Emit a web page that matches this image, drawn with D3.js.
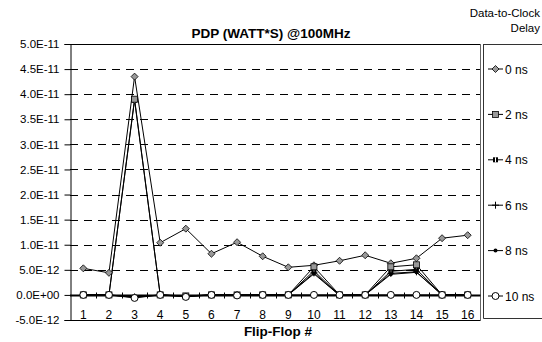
<!DOCTYPE html>
<html>
<head>
<meta charset="utf-8">
<script src="https://cdn.jsdelivr.net/npm/d3@7/dist/d3.min.js"></script>
<style>
  html, body { margin: 0; padding: 0; background: #fff; }
  svg { display: block; font-family: "Liberation Sans", Arial, sans-serif; }
</style>
</head>
<body>
<svg id="chart" width="542" height="342"></svg>
<script>
// Flip-flop index along the category axis
const flipFlops = [1, 2, 3, 4, 5, 6, 7, 8, 9, 10, 11, 12, 13, 14, 15, 16];

// Power-delay product (W*s) per flip-flop, one array per data-to-clock delay
const pdp0ns  = [5.3e-12, 4.4e-12, 4.35e-11, 1.04e-11, 1.32e-11, 8.2e-12, 1.05e-11, 7.7e-12, 5.5e-12, 5.9e-12, 6.8e-12, 7.9e-12, 6.3e-12, 7.3e-12, 1.13e-11, 1.19e-11];
const pdp2ns  = [0, 0, 3.9e-11, 0, -2e-13, 0, 0, 0, 0, 5.6e-12, 0, 0, 5.6e-12, 6.0e-12, 0, 0];
const pdp4ns  = [0, 0, 3.88e-11, 0, -2e-13, 0, 0, 0, 0, 4.8e-12, -1e-13, 0, 4.7e-12, 5.1e-12, 0, 0];
const pdp6ns  = [0, 0, -4e-13, 0, -3e-13, 0, 0, 0, 0, 4.4e-12, -1e-13, 0, 4.3e-12, 4.6e-12, 0, 0];
const pdp8ns  = [0, 0, -5e-13, 0, -3e-13, 0, -1e-13, 0, 0, 4.2e-12, -1e-13, 0, 4.1e-12, 4.5e-12, 0, 0];
const pdp10ns = [0, 0, -6e-13, 0, -4e-13, 0, -1e-13, 0, 0, 0, 0, 0, 0, 0, 0, 0];

const seriesNames = ["0 ns", "2 ns", "4 ns", "6 ns", "8 ns", "10 ns"];
const yTickValues = [5.0e-11, 4.5e-11, 4.0e-11, 3.5e-11, 3.0e-11, 2.5e-11, 2.0e-11, 1.5e-11, 1.0e-11, 5.0e-12, 0, -5.0e-12];
const yTickLabels = ["5.0E-11", "4.5E-11", "4.0E-11", "3.5E-11", "3.0E-11", "2.5E-11", "2.0E-11", "1.5E-11", "1.0E-11", "5.0E-12", "0.0E+00", "-5.0E-12"];

const series = [
  { name: seriesNames[0], values: pdp0ns,  marker: "diamond" },
  { name: seriesNames[1], values: pdp2ns,  marker: "square" },
  { name: seriesNames[2], values: pdp4ns,  marker: "smallsquare" },
  { name: seriesNames[3], values: pdp6ns,  marker: "plus" },
  { name: seriesNames[4], values: pdp8ns,  marker: "dot" },
  { name: seriesNames[5], values: pdp10ns, marker: "circle" }
];
// Stacking order of the marker layers (bottom first)
const markerOrder = [0, 2, 3, 4, 1, 5];

const svg = d3.select("#chart");
const plot = { left: 70, right: 480.5, top: 44, bottom: 320 };

const x = d3.scaleBand().domain(flipFlops).range([plot.left + 0.5, plot.right]);
const y = d3.scaleLinear().domain([-5e-12, 5e-11]).range([plot.bottom, plot.top]);
const cx = d => x(d) + x.bandwidth() / 2;

// Dashed horizontal gridlines
svg.append("g")
  .selectAll("line")
  .data(yTickValues.filter(v => v !== 0 && v !== 5e-11 && v !== -5e-12))
  .join("line")
  .attr("x1", plot.left).attr("x2", plot.right)
  .attr("y1", d => Math.round(y(d)) + 0.5).attr("y2", d => Math.round(y(d)) + 0.5)
  .attr("stroke", "#000").attr("stroke-width", 1)
  .attr("stroke-dasharray", "8,6");

// Plot frame: top, bottom, right
svg.append("line").attr("x1", plot.left).attr("x2", plot.right).attr("y1", plot.top + 0.5).attr("y2", plot.top + 0.5).attr("stroke", "#000");
svg.append("line").attr("x1", plot.left).attr("x2", plot.right).attr("y1", plot.bottom + 0.5).attr("y2", plot.bottom + 0.5).attr("stroke", "#000");
svg.append("line").attr("x1", plot.right).attr("x2", plot.right).attr("y1", plot.top).attr("y2", plot.bottom + 1).attr("stroke", "#666");

// Value axis
const yAxis = d3.axisLeft(y)
  .tickValues(yTickValues)
  .tickSize(6)
  .tickPadding(5)
  .tickFormat((d, i) => yTickLabels[i]);
const gy = svg.append("g").attr("transform", `translate(${plot.left + 0.5},0)`).call(yAxis);
gy.select(".domain").attr("stroke", "#000");
gy.selectAll(".tick line").attr("stroke", "#000");
gy.selectAll(".tick text").attr("font-size", 11.5).attr("fill", "#000")
  .attr("font-family", "Liberation Sans, Arial, sans-serif");

// Category axis crossing at zero, with labels at the bottom of the plot
const y0 = Math.round(y(0)) + 0.5;
svg.append("line").attr("x1", plot.left).attr("x2", plot.right).attr("y1", y0).attr("y2", y0)
  .attr("stroke", "#000").attr("stroke-width", 2);
svg.append("g").selectAll("line")
  .data(flipFlops.slice(1))
  .join("line")
  .attr("x1", d => Math.round(x(d)) + 0.5).attr("x2", d => Math.round(x(d)) + 0.5)
  .attr("y1", y0 - 3).attr("y2", y0 + 3)
  .attr("stroke", "#000");
svg.append("g").selectAll("text")
  .data(flipFlops)
  .join("text")
  .attr("x", d => cx(d)).attr("y", plot.bottom - 1.5)
  .attr("text-anchor", "middle").attr("font-size", 12).attr("fill", "#000")
  .text(d => d);

// Series lines
const line = d3.line().x((d, i) => cx(flipFlops[i])).y(d => y(d));
series.forEach(s => {
  svg.append("path").datum(s.values)
    .attr("d", line).attr("fill", "none")
    .attr("stroke", "#000").attr("stroke-width", 1);
});

// Marker drawing
function drawMarker(g, type, px, py) {
  switch (type) {
    case "diamond":
      g.append("path").attr("d", `M${px},${py - 3.5}L${px + 3.5},${py}L${px},${py + 3.5}L${px - 3.5},${py}Z`)
        .attr("fill", "#999").attr("stroke", "#000").attr("stroke-width", 0.8);
      break;
    case "square":
      g.append("rect").attr("x", px - 3).attr("y", py - 3).attr("width", 6).attr("height", 6)
        .attr("fill", "#999").attr("stroke", "#000").attr("stroke-width", 0.8);
      break;
    case "smallsquare":
      g.append("rect").attr("x", px - 2.5).attr("y", py - 2.5).attr("width", 5).attr("height", 5)
        .attr("fill", "#000");
      g.append("line").attr("x1", px).attr("x2", px).attr("y1", py - 2.5).attr("y2", py + 2.5)
        .attr("stroke", "#fff").attr("stroke-width", 1);
      break;
    case "plus":
      g.append("path").attr("d", `M${px - 3.5},${py}H${px + 3.5}M${px},${py - 3.5}V${py + 3.5}`)
        .attr("stroke", "#000").attr("stroke-width", 1);
      break;
    case "dot":
      g.append("circle").attr("cx", px).attr("cy", py).attr("r", 2).attr("fill", "#000");
      break;
    case "circle":
      g.append("circle").attr("cx", px).attr("cy", py).attr("r", 3.5)
        .attr("fill", "#fff").attr("stroke", "#000").attr("stroke-width", 1);
      break;
  }
}

const markers = svg.append("g");
markerOrder.forEach(k => {
  const s = series[k];
  s.values.forEach((v, i) => drawMarker(markers, s.marker, cx(flipFlops[i]), y(v)));
});

// Titles
svg.append("text").attr("x", 271).attr("y", 38)
  .attr("text-anchor", "middle").attr("font-size", 13.5).attr("font-weight", "bold")
  .text("PDP (WATT*S) @100MHz");
svg.append("text").attr("x", 278).attr("y", 336)
  .attr("text-anchor", "middle").attr("font-size", 13.5).attr("font-weight", "bold")
  .text("Flip-Flop #");

// Legend
svg.append("text").attr("x", 540).attr("y", 17).attr("text-anchor", "end").attr("font-size", 11.5).text("Data-to-Clock");
svg.append("text").attr("x", 540).attr("y", 32).attr("text-anchor", "end").attr("font-size", 11.5).text("Delay");
svg.append("path").attr("d", "M483.5,44V318.5H545M483.5,44.5H545").attr("fill", "none").attr("stroke", "#333");

const legendY = d3.scalePoint().domain(seriesNames).range([69, 296]);
const lg = svg.append("g");
series.forEach(s => {
  const ly = legendY(s.name);
  lg.append("line").attr("x1", 488).attr("x2", 503).attr("y1", ly).attr("y2", ly).attr("stroke", "#000");
  drawMarker(lg, s.marker, 495.5, ly);
  lg.append("text").attr("x", 505).attr("y", ly + 4.5).attr("font-size", 12).text(s.name);
});
</script>
</body>
</html>
